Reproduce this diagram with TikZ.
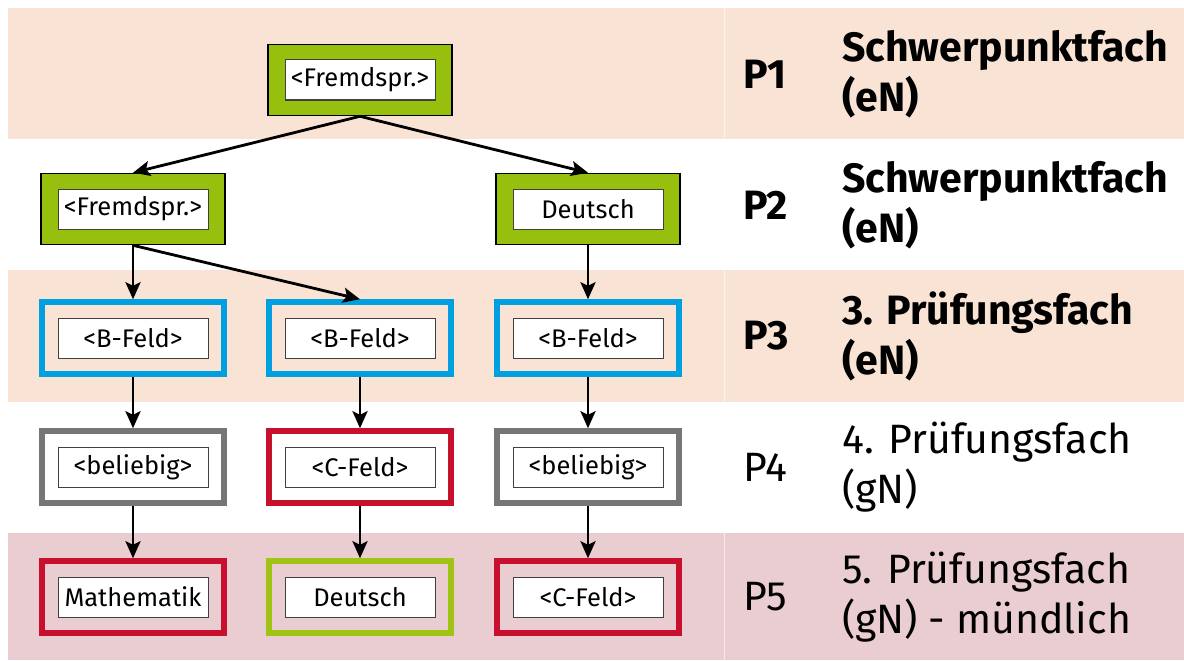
\documentclass[tikz,border=0pt]{standalone}
\usepackage{fontspec}
\setmainfont{Fira Sans}
\newfontfamily\boxfont{Fira Sans}
\usetikzlibrary{arrows.meta}

\definecolor{bandpeach}{HTML}{F9E3D4}
\definecolor{bandpink}{HTML}{EACDD1}
\definecolor{fachgreen}{HTML}{97BF0D}
\definecolor{lightgreen}{HTML}{A0C414}
\definecolor{bblue}{HTML}{00A0E0}
\definecolor{cred}{HTML}{C8102E}
\definecolor{anygray}{HTML}{767676}

\tikzset{
  outerfilled/.style={draw=black, line width=1.6pt, fill=fachgreen,
    minimum width=184pt, minimum height=71pt, inner sep=0pt},
  outerline/.style={draw=#1, line width=5.5pt,
    minimum width=182pt, minimum height=72pt, inner sep=0pt},
  innerbox/.style={draw=black!75, line width=1pt, fill=white,
    minimum width=150pt, minimum height=40pt, inner sep=0pt,
    font=\boxfont\fontsize{25.5}{30}\selectfont},
  plabel/.style={anchor=west, inner sep=0pt, font=\fontsize{41}{50}\selectfont},
  boldplabel/.style={plabel, font=\bfseries\fontsize{41}{50}\selectfont},
  desc/.style={anchor=west, inner sep=0pt, align=left,
    font=\fontsize{41}{50}\selectfont},
  bolddesc/.style={desc, font=\bfseries\fontsize{41}{50}\selectfont},
  link/.style={line width=2.8pt, -{Stealth[length=17pt,width=15pt,inset=3.5pt]}}
}

\begin{document}
\begin{tikzpicture}[x=1pt, y=-1pt]
\useasboundingbox (0,0) rectangle (1184,661);

% row bands
\fill[bandpeach] (8,8) rectangle (1184,139);
\fill[bandpeach] (8,270) rectangle (1184,402);
\fill[bandpink] (8,533) rectangle (1184,660);
\draw[white, opacity=0.6, line width=1pt] (724,8) -- (724,139);
\draw[white, opacity=0.6, line width=1pt] (724,270) -- (724,402);
\draw[white, opacity=0.6, line width=1pt] (724,533) -- (724,660);

% P1
\node[outerfilled] (p1) at (360,80) {};
\node[innerbox] (p1i) at (360,80) {<Fremdspr.>};

% P2
\node[outerfilled] (p2a) at (133,209) {};
\node[innerbox] (p2ai) at (133,209) {<Fremdspr.>};
\node[outerfilled] (p2b) at (588,209) {};
\node[innerbox] (p2bi) at (588,209) {Deutsch};

% P3
\node[outerline=bblue] (p3a) at (133,338) {};
\node[innerbox] (p3ai) at (133,338) {<B-Feld>};
\node[outerline=bblue] (p3b) at (360,338) {};
\node[innerbox] (p3bi) at (360,338) {<B-Feld>};
\node[outerline=bblue] (p3c) at (588,338) {};
\node[innerbox] (p3ci) at (588,338) {<B-Feld>};

% P4
\node[outerline=anygray] (p4a) at (133,467) {};
\node[innerbox] (p4ai) at (133,467) {<beliebig>};
\node[outerline=cred] (p4b) at (360,467) {};
\node[innerbox] (p4bi) at (360,467) {<C-Feld>};
\node[outerline=anygray] (p4c) at (588,467) {};
\node[innerbox] (p4ci) at (588,467) {<beliebig>};

% P5
\node[outerline=cred] (p5a) at (133,597) {};
\node[innerbox] (p5ai) at (133,597) {Mathematik};
\node[outerline=lightgreen] (p5b) at (360,597) {};
\node[innerbox] (p5bi) at (360,597) {Deutsch};
\node[outerline=cred] (p5c) at (588,597) {};
\node[innerbox] (p5ci) at (588,597) {<C-Feld>};

% connectors
\draw[link] (p1.south) -- (p2a.north);
\draw[link] (p1.south) -- (p2b.north);
\draw[link] (p2a.south) -- (p3a.north);
\draw[link] (p2a.south) -- (p3b.north);
\draw[link] (p2b.south) -- (p3c.north);
\draw[link] (p3a.south) -- (p4a.north);
\draw[link] (p3b.south) -- (p4b.north);
\draw[link] (p3c.south) -- (p4c.north);
\draw[link] (p4a.south) -- (p5a.north);
\draw[link] (p4b.south) -- (p5b.north);
\draw[link] (p4c.south) -- (p5c.north);

% right-hand column
\node[boldplabel] (l1) at (743,74) {P1};
\node[boldplabel] (l2) at (743,205) {P2};
\node[boldplabel] (l3) at (743,336) {P3};
\node[plabel] (l4) at (743,467) {P4};
\node[plabel] (l5) at (743,597) {P5};

\node[bolddesc] (d1) at (842,74) {Schwerpunktfach\\(eN)};
\node[bolddesc] (d2) at (842,205) {Schwerpunktfach\\(eN)};
\node[bolddesc] (d3) at (842,336) {3. Prüfungsfach\\(eN)};
\node[desc] (d4) at (842,467) {4. Prüfungsfach\\(gN)};
\node[desc] (d5) at (842,597) {5. Prüfungsfach\\(gN) - mündlich};
\end{tikzpicture}
\end{document}
